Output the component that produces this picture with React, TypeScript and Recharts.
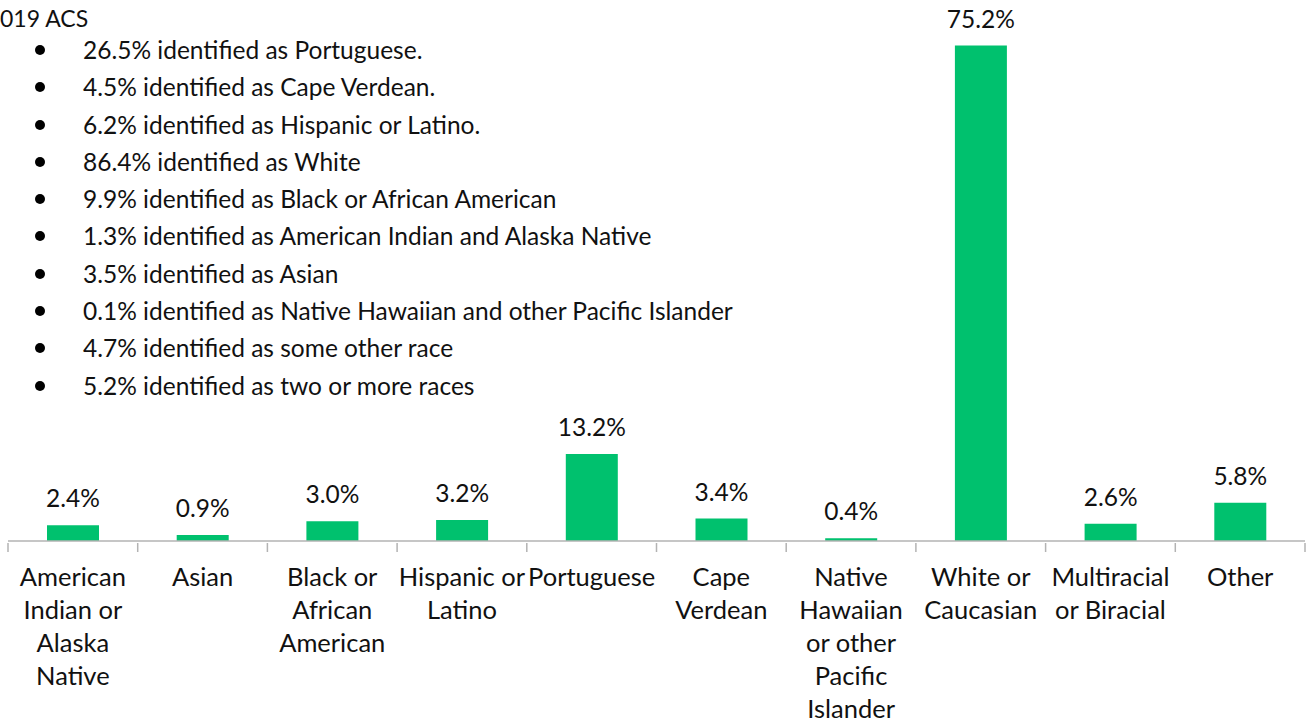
import { BarChart, Bar, XAxis, YAxis, LabelList } from 'recharts';

const categories = [
  'American\nIndian or\nAlaska\nNative',
  'Asian',
  'Black or\nAfrican\nAmerican',
  'Hispanic or\nLatino',
  'Portuguese',
  'Cape\nVerdean',
  'Native\nHawaiian\nor other\nPacific\nIslander',
  'White or\nCaucasian',
  'Multiracial\nor Biracial',
  'Other',
];
const shares = [2.4, 0.9, 3.0, 3.2, 13.2, 3.4, 0.4, 75.2, 2.6, 5.8];

const sourceNote = '019 ACS';
const acsNotes = [
  '26.5% identified as Portuguese.',
  '4.5% identified as Cape Verdean.',
  '6.2% identified as Hispanic or Latino.',
  '86.4% identified as White',
  '9.9% identified as Black or African American',
  '1.3% identified as American Indian and Alaska Native',
  '3.5% identified as Asian',
  '0.1% identified as Native Hawaiian and other Pacific Islander',
  '4.7% identified as some other race',
  '5.2% identified as two or more races',
];

const data = categories.map((name, i) => ({ name, value: shares[i] }));

const W = 1307;
const H = 723;
const LEFT = 8;
const RIGHT = 2;
const BAND = (W - LEFT - RIGHT) / categories.length;
const FONT = 'Lato, "Open Sans", sans-serif';
const GREEN = '#00c16e';
const AXIS = '#b3b3b3';

const CategoryTick = (props: any) => {
  const { x, y, payload, index } = props;
  const lines = String(payload.value).split('\n');
  const half = BAND / 2;
  return (
    <g>
      <line x1={x - half} x2={x - half} y1={y} y2={y + 9} stroke={AXIS} strokeWidth={1.5} />
      {index === categories.length - 1 && (
        <line x1={x + half} x2={x + half} y1={y} y2={y + 9} stroke={AXIS} strokeWidth={1.5} />
      )}
      {lines.map((line, i) => (
        <text
          key={i}
          x={x}
          y={y + 43 + i * 33}
          textAnchor="middle"
          fontFamily={FONT}
          fontSize={25.5}
          fill="#111"
        >
          {line}
        </text>
      ))}
    </g>
  );
};

const ValueLabel = (props: any) => {
  const { x, y, width, value } = props;
  return (
    <text x={x + width / 2} y={y - 18} textAnchor="middle" fontFamily={FONT} fontSize={24.5} fill="#111">
      {Number(value).toFixed(1)}%
    </text>
  );
};

export default function App() {
  return (
    <div style={{ position: 'absolute', left: 0, top: 0, width: W, height: H, background: '#fff' }}>
      <BarChart width={W} height={H} data={data} margin={{ top: 14, right: RIGHT, left: LEFT, bottom: 0 }}>
        <XAxis
          dataKey="name"
          interval={0}
          height={182}
          tickSize={0}
          tickLine={false}
          axisLine={{ stroke: AXIS, strokeWidth: 1.5 }}
          tick={<CategoryTick />}
        />
        <YAxis hide domain={[0, 80]} />
        <Bar dataKey="value" fill={GREEN} barSize={52} isAnimationActive={false}>
          <LabelList dataKey="value" content={<ValueLabel />} />
        </Bar>
      </BarChart>
      <div
        style={{
          position: 'absolute',
          left: 0,
          top: 5,
          fontFamily: FONT,
          fontSize: 23,
          lineHeight: '26px',
          color: '#111',
        }}
      >
        {sourceNote}
      </div>
      <div style={{ position: 'absolute', left: 0, top: 31, fontFamily: FONT, fontSize: 24.5, color: '#111' }}>
        {acsNotes.map((note) => (
          <div key={note} style={{ position: 'relative', height: 37.3, lineHeight: '37.3px', paddingLeft: 83, whiteSpace: 'nowrap' }}>
            <span
              style={{
                position: 'absolute',
                left: 35,
                top: 14,
                width: 10,
                height: 10,
                borderRadius: 5,
                background: '#000',
              }}
            />
            {note}
          </div>
        ))}
      </div>
    </div>
  );
}
